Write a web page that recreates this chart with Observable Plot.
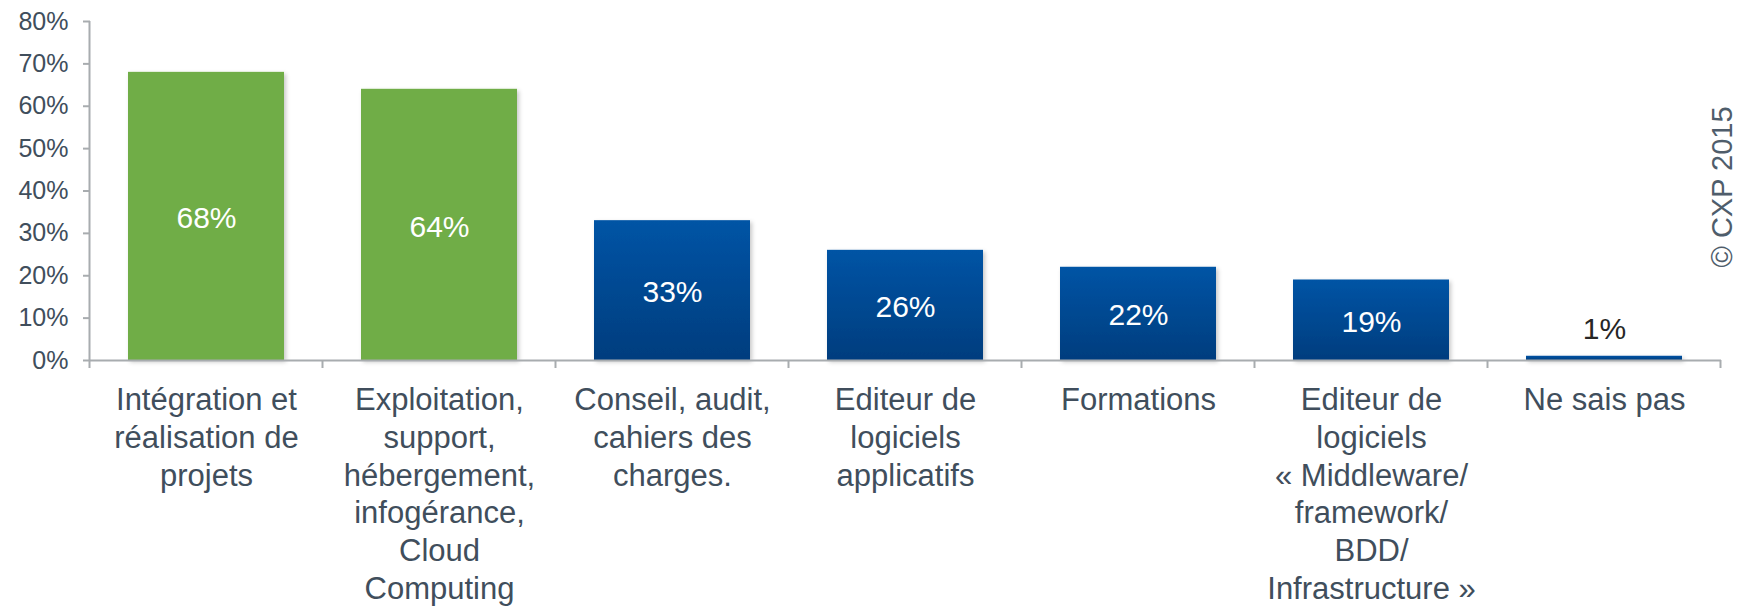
<!DOCTYPE html>
<html><head><meta charset="utf-8">
<script src="https://cdn.jsdelivr.net/npm/d3@7"></script>
<script src="https://cdn.jsdelivr.net/npm/@observablehq/plot@0.6"></script>
<style>body{margin:0;background:#fff;}</style>
</head><body><div id="chart"></div>
<script>
const categories = [
  "Intégration et\nréalisation de\nprojets",
  "Exploitation,\nsupport,\nhébergement,\ninfogérance,\nCloud\nComputing",
  "Conseil, audit,\ncahiers des\ncharges.",
  "Editeur de\nlogiciels\napplicatifs",
  "Formations",
  "Editeur de\nlogiciels\n« Middleware/\nframework/\nBDD/\nInfrastructure »",
  "Ne sais pas"
];
const values = [68, 64, 33, 26, 22, 19, 1];
const highlighted = [true, true, false, false, false, false, false];
const yTicks = [0, 10, 20, 30, 40, 50, 60, 70, 80];
const copyright = "© CXP 2015";

const data = categories.map((c, i) => ({category: c, value: values[i], hl: highlighted[i]}));
const inside = d => d.value >= 5;
const textColor = "#404e5c";
const axisColor = "#a8acaf";

const plot = Plot.plot({
  width: 1739, height: 607,
  marginLeft: 90, marginRight: 18, marginTop: 21, marginBottom: 247,
  style: {fontFamily: "Arial, 'Liberation Sans', sans-serif", background: "#fff", color: textColor},
  x: {domain: categories, paddingInner: 0.33, paddingOuter: 0.165, axis: null},
  y: {domain: [0, 80], axis: null},
  marks: [
    Plot.axisY({ticks: yTicks, tickFormat: d => d + "%", label: null, tickSize: 7, tickPadding: 15, fontSize: 25, stroke: axisColor, strokeWidth: 2, fill: textColor}),
    Plot.barY(data.filter(d => d.hl), {x: "category", y: "value", fill: "#70ad47"}),
    Plot.barY(data.filter(d => !d.hl), {x: "category", y: "value", fill: "url(#blueGrad)"}),
    Plot.ruleY([0], {stroke: axisColor, strokeWidth: 2}),
    Plot.text(data.filter(inside), {x: "category", y: d => d.value / 2, text: d => d.value + "%", fill: "white", fontSize: 30, dy: 2}),
    Plot.text(data.filter(d => !inside(d)), {x: "category", y: "value", text: d => d.value + "%", fill: "#262626", fontSize: 30, dy: -27}),
    Plot.text(data, {x: "category", frameAnchor: "bottom", text: "category", lineAnchor: "top", dy: 23, fontSize: 31, lineHeight: 1.216, fill: textColor}),
    Plot.text([copyright], {frameAnchor: "right", text: d => d, textAnchor: "middle", lineAnchor: "middle", rotate: -90, dx: 1, dy: -4, fontSize: 29, fill: "#4f5d6b"})
  ]
});

const svg = d3.select(plot);
const defs = svg.insert("defs", ":first-child");
const grad = defs.append("linearGradient").attr("id", "blueGrad").attr("x1", 0).attr("y1", 0).attr("x2", 0).attr("y2", 1);
grad.append("stop").attr("offset", "0%").attr("stop-color", "#0354a5");
grad.append("stop").attr("offset", "100%").attr("stop-color", "#013d7e");
const filt = defs.append("filter").attr("id", "shadow").attr("x", "-10%").attr("y", "-10%").attr("width", "130%").attr("height", "130%");
filt.append("feDropShadow").attr("dx", 2).attr("dy", 2).attr("stdDeviation", 2).attr("flood-color", "#000").attr("flood-opacity", 0.22);
svg.selectAll('g[aria-label="bar"]').attr("filter", "url(#shadow)");

const xs = plot.scale("x"), ys = plot.scale("y");
const y0 = ys.apply(0), yTop = ys.apply(80);
const step = xs.step || (xs.apply(categories[1]) - xs.apply(categories[0]));
const bw = xs.bandwidth;
const start = xs.apply(categories[0]) - (step - bw) / 2;
const axisG = svg.append("g").attr("stroke", axisColor).attr("stroke-width", 2);
axisG.append("line").attr("x1", start).attr("x2", start).attr("y1", yTop).attr("y2", y0 + 8);
for (let i = 1; i <= categories.length; i++) {
  const x = start + i * step;
  axisG.append("line").attr("x1", x).attr("x2", x).attr("y1", y0).attr("y2", y0 + 8);
}
document.getElementById("chart").appendChild(plot);
</script>
</body></html>
